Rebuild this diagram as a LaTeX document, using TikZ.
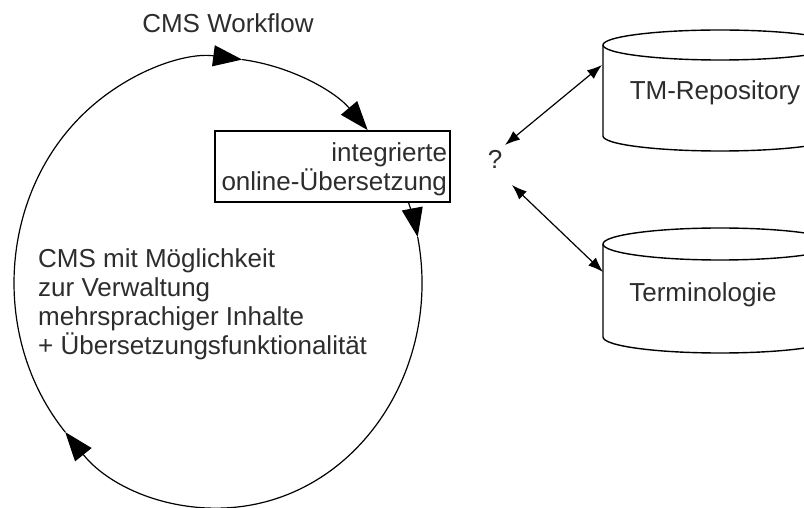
\documentclass[tikz,border=0pt]{standalone}
\usepackage{fontspec}
\setmainfont{Liberation Sans}
\usetikzlibrary{arrows.meta,calc}
\definecolor{txt}{RGB}{45,45,45}
\begin{document}
\begin{tikzpicture}[x=1bp,y=-1bp,
  font=\fontsize{26bp}{29bp}\selectfont, text=txt,
  flow/.style={line width=1.2bp,-{Triangle[length=29bp,width=21bp]}},
  link/.style={line width=1.2bp,{Latex[length=15bp,width=11bp]}-{Latex[length=15bp,width=11bp]}},
  db/.style={line width=1.4bp,fill=white},
  lbl/.style={inner sep=0pt},
  stepbox/.style={draw,line width=1.3bp,fill=white,minimum width=235bp,minimum height=71bp,
    inner xsep=3bp,inner ysep=0pt,text width=229bp,align=right}]
\useasboundingbox (0,0) rectangle (804,508);
\clip (0,0) rectangle (804,508);

% workflow ellipse
\coordinate (C) at (218,283);
\draw[flow] ($(C)+(-21.1:204 and 225)$) arc[start angle=-21.1,end angle=-11.8,x radius=204,y radius=225];
\draw[flow] ($(C)+(-11.8:204 and 225)$) arc[start angle=-11.8,end angle=138.5,x radius=204,y radius=225];
\draw[flow] ($(C)+(138.5:204 and 225)$) arc[start angle=138.5,end angle=276.8,x radius=204,y radius=225];
\draw[flow] ($(C)+(276.8:204 and 225)$) arc[start angle=276.8,end angle=317.2,x radius=204,y radius=225];

% box
\node[stepbox] (box) at (332.5,166.5) {\rule{0pt}{25bp}integrierte\\online-Übersetzung};

\node[lbl,anchor=base] (wf) at (228,33) {CMS Workflow};
\node[lbl,anchor=north west,align=left] (cms) at (38,248)
  {CMS mit Möglichkeit\\zur Verwaltung\\mehrsprachiger Inhalte\\+ Übersetzungsfunktionalität};

% cylinders
\path[db] (603,45) -- (603,136) arc[start angle=180,end angle=0,x radius=117,y radius=15] -- (837,45) -- cycle;
\draw[db] (603,45) -- (603,136) arc[start angle=180,end angle=0,x radius=117,y radius=15] -- (837,45);
\draw[db] (720,45) ellipse[x radius=117,y radius=15];
\node[lbl,anchor=base] (tm) at (715,100) {TM-Repository};

\path[db] (603,244) -- (603,337) arc[start angle=180,end angle=0,x radius=117,y radius=16] -- (837,244) -- cycle;
\draw[db] (603,244) -- (603,337) arc[start angle=180,end angle=0,x radius=117,y radius=16] -- (837,244);
\draw[db] (720,244) ellipse[x radius=117,y radius=16];
\node[lbl,anchor=base] (term) at (703,302) {Terminologie};

% question mark and links
\node[lbl,anchor=base] (q) at (495,169) {?};
\coordinate (qa) at (505,145);
\coordinate (qb) at (512,185);
\coordinate (tmA) at (602,65);
\coordinate (teA) at (603,272);
\draw[link] (qa) -- (tmA);
\draw[link] (qb) -- (teA);
\end{tikzpicture}
\end{document}
